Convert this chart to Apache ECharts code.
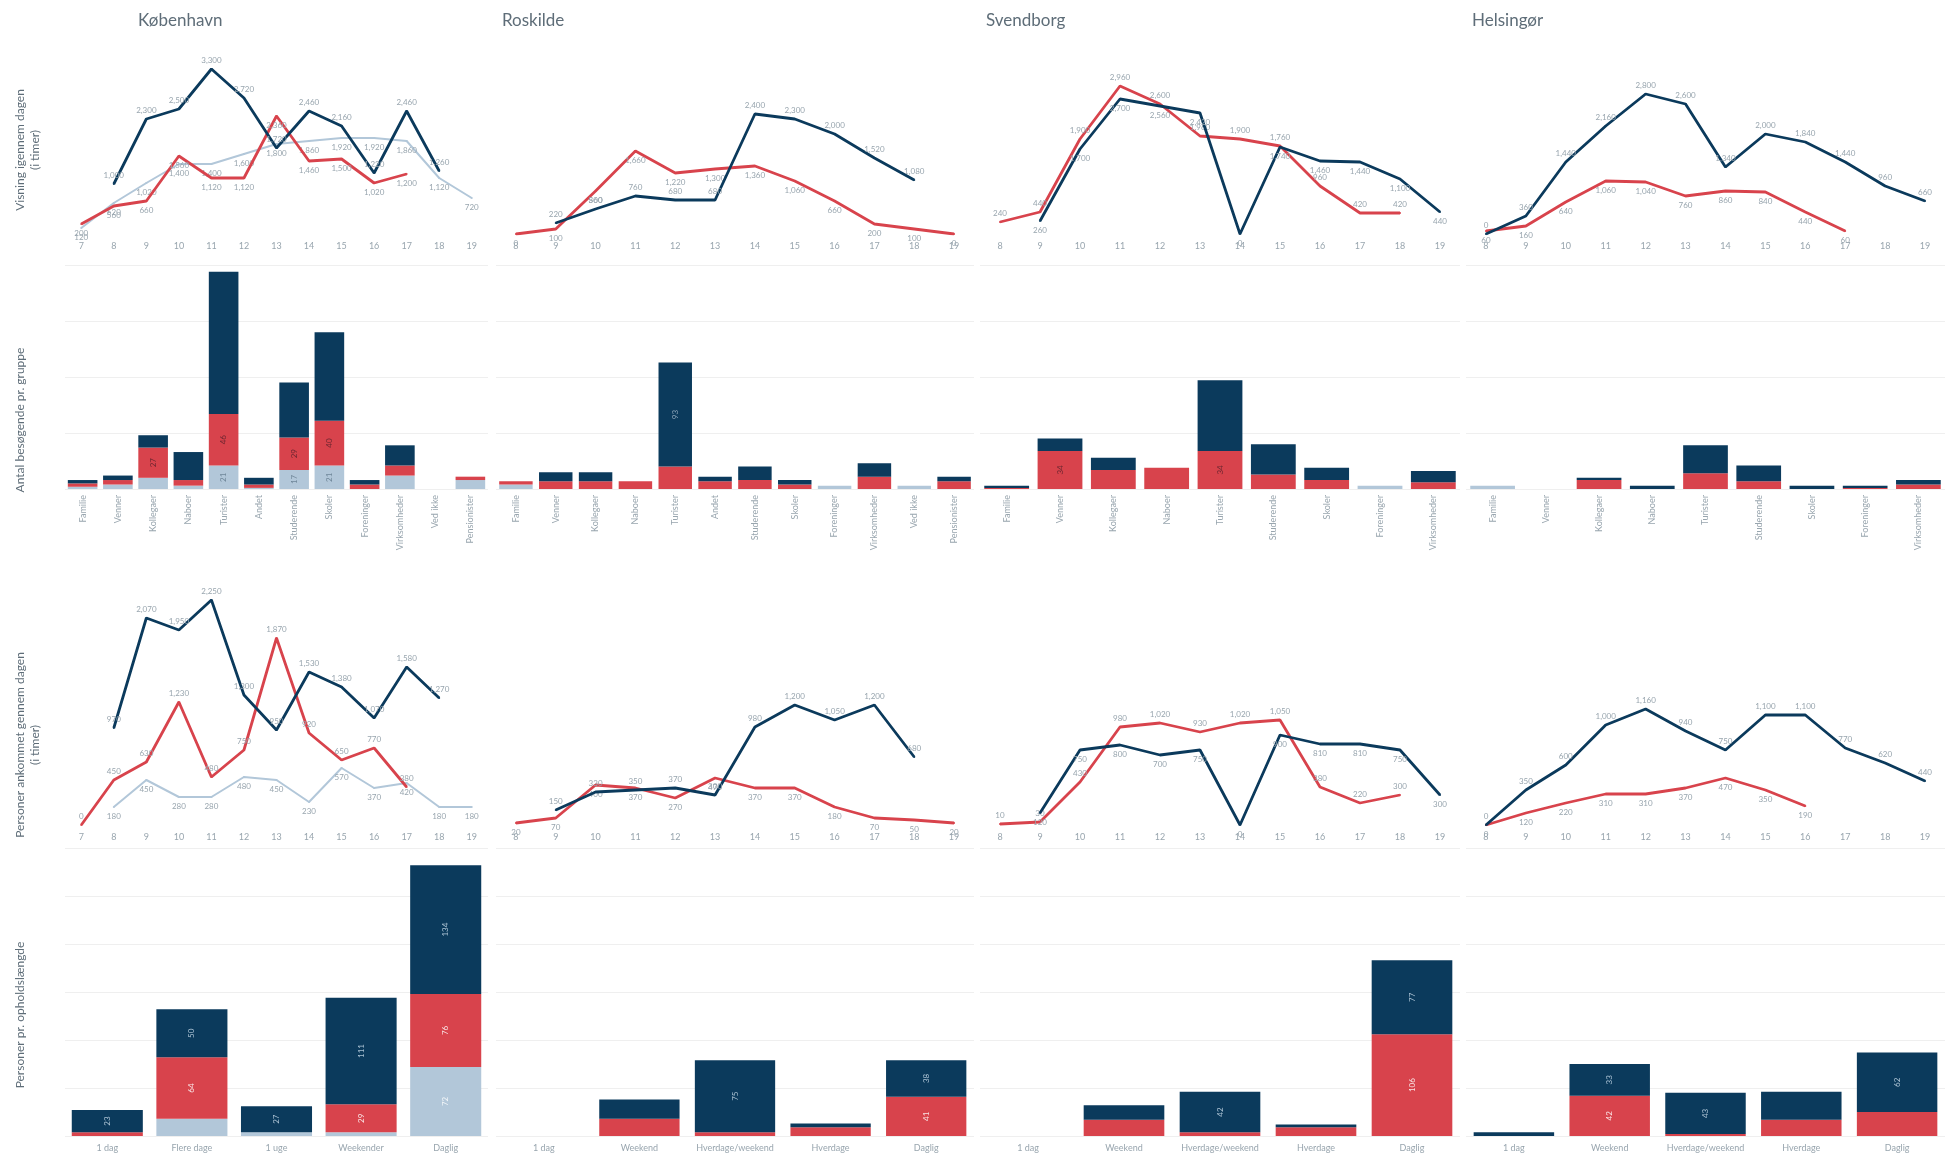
<!DOCTYPE html>
<html>
<head>
<meta charset="utf-8">
<script src="https://cdn.jsdelivr.net/npm/echarts@6/dist/echarts.min.js"></script>
<style>
  html, body { margin: 0; padding: 0; background: #fff; }
  #main { width: 1957px; height: 1156px; }
</style>
</head>
<body>
<div id="main"></div>
<script>
// byer (kolonner)
var cities = ['København', 'Roskilde', 'Svendborg', 'Helsingør'];

// timer på x-aksen
var hoursKbh = ['7','8','9','10','11','12','13','14','15','16','17','18','19'];
var hours = ['8','9','10','11','12','13','14','15','16','17','18','19'];

// række 1: visninger gennem dagen
var kbhViewsDark  = [null, 1000, 2300, 2500, 3300, 2720, 1720, 2460, 2160, 1220, 2460, 1260, null];
var kbhViewsRed   = [200, 560, 660, 1560, 1120, 1120, 2360, 1460, 1500, 1020, 1200, null, null];
var kbhViewsLight = [120, 620, 1020, 1400, 1400, 1600, 1800, 1860, 1920, 1920, 1860, 1120, 720];
var rosViewsDark  = [null, 220, 500, 760, 680, 680, 2400, 2300, 2000, 1520, 1080, null];
var rosViewsRed   = [0, 100, 860, 1660, 1220, 1300, 1360, 1060, 660, 200, 100, 0];
var sveViewsDark  = [null, 260, 1700, 2700, 2560, 2420, 0, 1740, 1460, 1440, 1100, 440];
var sveViewsRed   = [240, 440, 1900, 2960, 2600, 1960, 1900, 1760, 960, 420, 420, null];
var helViewsDark  = [0, 360, 1440, 2160, 2800, 2600, 1340, 2000, 1840, 1440, 960, 660];
var helViewsRed   = [60, 160, 640, 1060, 1040, 760, 860, 840, 440, 60, null, null];

// række 2: kategorier
var groupsLong  = ['Familie','Venner','Kollegaer','Naboer','Turister','Andet','Studerende','Skoler','Foreninger','Virksomheder','Ved ikke','Pensionister'];
var groupsShort = ['Familie','Venner','Kollegaer','Naboer','Turister','Studerende','Skoler','Foreninger','Virksomheder'];
var kbhGroupLight = [2, 4, 10, 3, 21, 1, 17, 21, 0, 12, 0, 8];
var kbhGroupRed   = [3, 4, 27, 5, 46, 3, 29, 40, 4, 9, 0, 3];
var kbhGroupDark  = [3, 4, 11, 25, 127, 6, 49, 79, 4, 18, 0, 0];
var rosGroupLight = [4, 0, 0, 0, 0, 0, 0, 0, 3, 0, 3, 0];
var rosGroupRed   = [3, 7, 7, 7, 20, 7, 8, 4, 0, 11, 0, 7];
var rosGroupDark  = [0, 8, 8, 0, 93, 4, 12, 4, 0, 12, 0, 4];
var sveGroupLight = [0, 0, 0, 0, 0, 0, 0, 3, 0];
var sveGroupRed   = [1, 34, 17, 19, 34, 13, 8, 0, 6];
var sveGroupDark  = [2, 11, 11, 0, 63, 27, 11, 0, 10];
var helGroupLight = [3, 0, 0, 0, 0, 0, 0, 0, 0];
var helGroupRed   = [0, 0, 8, 0, 14, 7, 0, 1, 4];
var helGroupDark  = [0, 0, 2, 3, 25, 14, 3, 2, 4];

// række 3: personer ankommet gennem dagen
var kbhArrDark  = [null, 970, 2070, 1950, 2250, 1300, 950, 1530, 1380, 1070, 1580, 1270, null];
var kbhArrRed   = [0, 450, 630, 1230, 480, 750, 1870, 920, 650, 770, 380, null, null];
var kbhArrLight = [null, 180, 450, 280, 280, 480, 450, 230, 570, 370, 420, 180, 180];
var rosArrDark  = [null, 150, 330, 350, 370, 300, 980, 1200, 1050, 1200, 680, null];
var rosArrRed   = [20, 70, 400, 370, 270, 470, 370, 370, 180, 70, 50, 20];
var sveArrDark  = [null, 120, 750, 800, 700, 750, 0, 900, 810, 810, 750, 300];
var sveArrRed   = [10, 30, 430, 980, 1020, 930, 1020, 1050, 380, 220, 300, null];
var helArrDark  = [0, 350, 600, 1000, 1160, 940, 750, 1100, 1100, 770, 620, 440];
var helArrRed   = [0, 120, 220, 310, 310, 370, 470, 350, 190, null, null, null];

// række 4: opholdslængde
var stayKbh = ['1 dag', 'Flere dage', '1 uge', 'Weekender', 'Daglig'];
var stay    = ['1 dag', 'Weekend', 'Hverdage/weekend', 'Hverdage', 'Daglig'];
var kbhStayLight = [0, 18, 4, 4, 72];
var kbhStayRed   = [4, 64, 0, 29, 76];
var kbhStayDark  = [23, 50, 27, 111, 134];
var rosStayRed   = [0, 18, 4, 9, 41];
var rosStayDark  = [0, 20, 75, 4, 38];
var sveStayRed   = [0, 17, 4, 9, 106];
var sveStayDark  = [0, 15, 42, 3, 77];
var helStayRed   = [0, 42, 2, 17, 25];
var helStayDark  = [4, 33, 43, 29, 62];

// aksetitler (venstre side)
var rowTitles = [
    ['Visning igennem dagen', '(i timer)'],
    ['Antal besøgende pr. gruppe'],
    ['Personer ankommet gennem dagen', '(i timer)'],
    ['Personer pr. opholdslængde']
];

var DARK = '#0b3a5c', RED = '#d8434c', LIGHT = '#b2c7d9';
var GRAY = '#98a5ae';

// layout
var colLeft  = [65, 496, 980, 1466];
var colWidth = [423, 478, 480, 479];
var rowTop    = [59, 265, 590, 848];
var rowHeight = [175, 224, 235, 288];
var rowMax    = [3500, 200, 2350, 300];
var rowTitleY = [150, 420, 745, 1015];

var xCats = [
    [hoursKbh, hours, hours, hours],
    [groupsLong, groupsLong, groupsShort, groupsShort],
    [hoursKbh, hours, hours, hours],
    [stayKbh, stay, stay, stay]
];

function fmt(p) {
    if (p.value == null) return '';
    return Number(p.value).toLocaleString('en-US');
}

var grids = [], xAxes = [], yAxes = [], series = [];
for (var r = 0; r < 4; r++) {
    for (var c = 0; c < 4; c++) {
        var isBar = (r === 1 || r === 3);
        grids.push({left: colLeft[c], width: colWidth[c], top: rowTop[r], height: rowHeight[r]});
        xAxes.push({
            gridIndex: r * 4 + c,
            type: 'category',
            data: xCats[r][c],
            axisLine: {show: false},
            axisTick: {show: false},
            axisLabel: {
                interval: 0,
                fontSize: 9,
                color: GRAY,
                rotate: r === 1 ? 90 : 0,
                margin: r === 1 ? 6 : 8,
                fontFamily: 'Lato'
            }
        });
        yAxes.push({
            gridIndex: r * 4 + c,
            type: 'value',
            min: 0,
            max: rowMax[r],
            interval: isBar ? 50 : undefined,
            axisLine: {show: false},
            axisTick: {show: false},
            axisLabel: {show: false},
            splitLine: {show: isBar, lineStyle: {color: '#efefef', width: 1}}
        });
    }
}

function addLine(idx, data, color, width, pos, z) {
    series.push({
        type: 'line', xAxisIndex: idx, yAxisIndex: idx, data: data,
        symbol: 'circle', symbolSize: 2, z: z,
        itemStyle: {color: color},
        lineStyle: {color: color, width: width},
        label: {show: true, position: pos, fontSize: 8, color: GRAY, fontFamily: 'Lato', formatter: fmt, distance: 4}
    });
}

function addBar(idx, data, color, labelColor, minShow) {
    series.push({
        type: 'bar', xAxisIndex: idx, yAxisIndex: idx, data: data,
        stack: 's' + idx, barCategoryGap: '16%',
        itemStyle: {color: color},
        label: {
            show: true, position: 'inside', rotate: 90, fontSize: 8, color: labelColor, fontFamily: 'Lato',
            formatter: function (p) { return p.value >= minShow ? String(p.value) : ''; }
        }
    });
}

// række 1
addLine(0, kbhViewsLight, LIGHT, 2, 'bottom', 2);
addLine(0, kbhViewsRed, RED, 2.8, 'bottom', 3);
addLine(0, kbhViewsDark, DARK, 2.8, 'top', 4);
addLine(1, rosViewsRed, RED, 2.8, 'bottom', 3);
addLine(1, rosViewsDark, DARK, 2.8, 'top', 4);
addLine(2, sveViewsRed, RED, 2.8, 'top', 3);
addLine(2, sveViewsDark, DARK, 2.8, 'bottom', 4);
addLine(3, helViewsRed, RED, 2.8, 'bottom', 3);
addLine(3, helViewsDark, DARK, 2.8, 'top', 4);

// række 2
addBar(4, kbhGroupLight, LIGHT, '#6f8799', 15);
addBar(4, kbhGroupRed, RED, '#6e2630', 20);
addBar(4, kbhGroupDark, DARK, '#8aa3b8', 200);
addBar(5, rosGroupLight, LIGHT, '#6f8799', 200);
addBar(5, rosGroupRed, RED, '#6e2630', 200);
addBar(5, rosGroupDark, DARK, '#8aa3b8', 50);
addBar(6, sveGroupLight, LIGHT, '#6f8799', 200);
addBar(6, sveGroupRed, RED, '#6e2630', 30);
addBar(6, sveGroupDark, DARK, '#8aa3b8', 200);
addBar(7, helGroupLight, LIGHT, '#6f8799', 200);
addBar(7, helGroupRed, RED, '#6e2630', 200);
addBar(7, helGroupDark, DARK, '#8aa3b8', 200);

// række 3
addLine(8, kbhArrLight, LIGHT, 2, 'bottom', 2);
addLine(8, kbhArrRed, RED, 2.8, 'top', 3);
addLine(8, kbhArrDark, DARK, 2.8, 'top', 4);
addLine(9, rosArrRed, RED, 2.8, 'bottom', 3);
addLine(9, rosArrDark, DARK, 2.8, 'top', 4);
addLine(10, sveArrRed, RED, 2.8, 'top', 3);
addLine(10, sveArrDark, DARK, 2.8, 'bottom', 4);
addLine(11, helArrRed, RED, 2.8, 'bottom', 3);
addLine(11, helArrDark, DARK, 2.8, 'top', 4);

// række 4
addBar(12, kbhStayLight, LIGHT, 'rgba(255,255,255,0.85)', 20);
addBar(12, kbhStayRed, RED, 'rgba(255,255,255,0.85)', 20);
addBar(12, kbhStayDark, DARK, 'rgba(190,210,225,0.9)', 20);
addBar(13, rosStayRed, RED, 'rgba(255,255,255,0.85)', 30);
addBar(13, rosStayDark, DARK, 'rgba(190,210,225,0.9)', 30);
addBar(14, sveStayRed, RED, 'rgba(255,255,255,0.85)', 30);
addBar(14, sveStayDark, DARK, 'rgba(190,210,225,0.9)', 30);
addBar(15, helStayRed, RED, 'rgba(255,255,255,0.85)', 30);
addBar(15, helStayDark, DARK, 'rgba(190,210,225,0.9)', 30);

var titleLeft = [133, 497, 981, 1467];
var titles = cities.map(function (name, i) {
    return {text: name, left: titleLeft[i], top: 7,
            textStyle: {fontSize: 17, fontWeight: 'normal', color: '#5e6d78', fontFamily: 'Lato'}};
});

// roterede aksetitler
var graphics = [];
rowTitles.forEach(function (lines, r) {
    lines.forEach(function (txt, k) {
        graphics.push({
            type: 'text',
            x: 20 + k * 15,
            y: rowTitleY[r],
            rotation: Math.PI / 2,
            style: {text: txt, fill: '#5e6d78', font: '12px Lato', align: 'center', verticalAlign: 'middle'}
        });
    });
});

var myChart = echarts.init(document.getElementById('main'));
myChart.setOption({
    animation: false,
    backgroundColor: '#ffffff',
    title: titles,
    graphic: graphics,
    grid: grids,
    xAxis: xAxes,
    yAxis: yAxes,
    series: series
});
</script>
</body>
</html>
